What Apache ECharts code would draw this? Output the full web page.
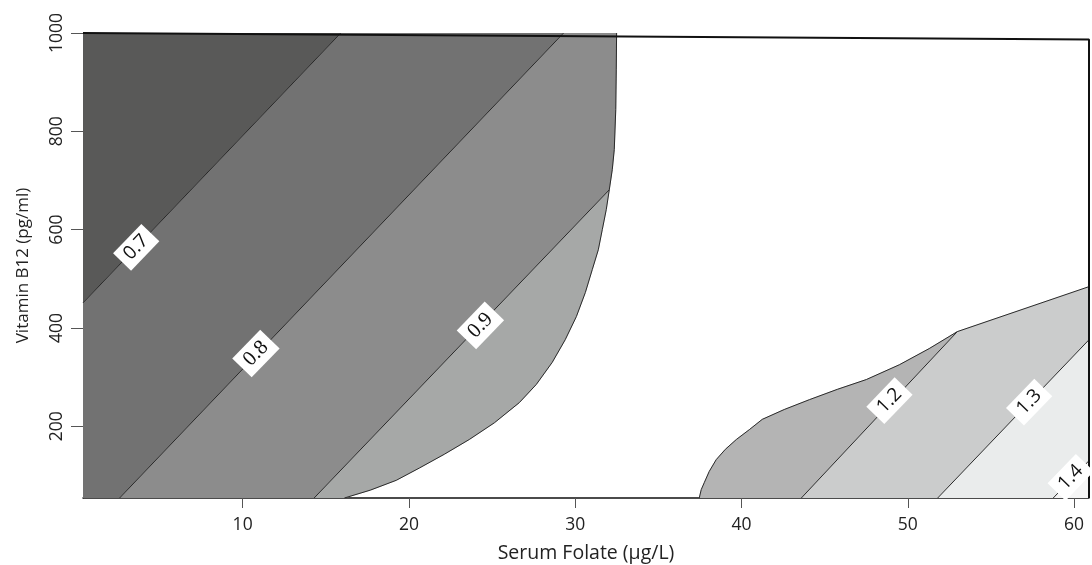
<!DOCTYPE html>
<html>
<head>
<meta charset="utf-8">
<script src="https://cdn.jsdelivr.net/npm/echarts@6/dist/echarts.min.js"></script>
<style>
html,body{margin:0;padding:0;background:#fff;}
#chart{width:1092px;height:565px;}
</style>
</head>
<body>
<div id="chart"></div>
<script>
// Axis ranges and ticks
const X_MIN = 0.4, X_MAX = 60.9, Y_MIN = 54, Y_MAX = 1000;
const xTicks = [10, 20, 30, 40, 50, 60];
const yTicks = [200, 400, 600, 800, 1000];

// Contour lines (Serum Folate, Vitamin B12)
const line07 = [[X_MIN, 451], [15.9, 1000]];
const line08 = [[2.6, Y_MIN], [29.3, 1000]];
const line09 = [[14.3, Y_MIN], [32.05, 681]];
const line10 = [[16.12, Y_MIN], [17.68, 70], [19.24, 90], [20.63, 115], [22.13, 143], [23.63, 173], [25.14, 207], [26.64, 248], [27.66, 285], [28.62, 330], [29.4, 376], [30.07, 423], [30.61, 472], [31.03, 519], [31.39, 559], [31.63, 600], [31.87, 641], [32.05, 681], [32.23, 722], [32.35, 763], [32.44, 844], [32.47, 925], [32.49, 1000]];
const line11 = [[37.46, Y_MIN], [37.58, 71], [37.76, 85], [38.06, 108], [38.48, 132], [39.03, 153], [39.69, 173], [40.47, 193], [41.25, 214], [42.57, 234], [44.08, 254], [45.76, 275], [47.51, 295], [49.49, 325], [51.29, 358], [52.98, 392.5], [X_MAX, 484]];
const line12 = [[43.6, Y_MIN], [52.98, 392.5]];
const line13 = [[51.8, Y_MIN], [X_MAX, 376]];
const line14 = [[58.75, Y_MIN], [X_MAX, 130]];

// Contour labels
const labelNames = ['0.7', '0.8', '0.9', '1.2', '1.3', '1.4'];
const labelX = [3.6, 10.8, 24.3, 48.9, 57.3, 59.8];
const labelY = [564, 348, 405, 252, 249, 96];
const labelSerif = [false, true, true, false, false, false];

// Band fill colours (low -> high)
const bandColors = ['#595958', '#727272', '#8c8c8c', '#a6a8a7', '#b4b4b4', '#cbcccc', '#eaecec', '#f6f6f6'];

const K10 = 17; // index of the 0.9 line end on the 1.0 boundary
const K11 = 15; // index of the 1.2 line end on the 1.1 boundary
const rev = a => a.slice().reverse();
const bands = [
  line07.concat([[X_MIN, Y_MAX]]),
  [[X_MIN, Y_MIN]].concat(line08, rev(line07)),
  line09.concat(line10.slice(K10 + 1), rev(line08)),
  line10.slice(0, K10 + 1).concat(rev(line09)),
  line11.slice(0, K11 + 1).concat(rev(line12)),
  line12.concat(line11.slice(K11 + 1), rev(line13)),
  line13.concat(rev(line14)),
  line14.concat([[X_MAX, Y_MIN]])
];

const SANS = '"Open Sans", "Noto Sans", sans-serif';
const SERIF = '"Liberation Serif", "DejaVu Serif", serif';

const chart = echarts.init(document.getElementById('chart'));

const contourSeries = [line07, line08, line09, line10, line11, line12, line13, line14].map(l => ({
  type: 'line', data: l, symbol: 'none', silent: true, z: 3,
  lineStyle: { color: '#2a2a2a', width: 1 }
}));

chart.setOption({
  animation: false,
  grid: { left: 83, right: 3, top: 33, bottom: 67, containLabel: false, outerBoundsMode: 'none' },
  xAxis: {
    type: 'value', min: X_MIN, max: X_MAX,
    name: 'Serum Folate (µg/L)', nameLocation: 'middle', nameGap: 45,
    nameTextStyle: { fontFamily: SANS, fontSize: 19.5, color: '#222' },
    splitLine: { show: false },
    axisLine: { show: true, onZero: false, lineStyle: { color: '#111', width: 1.5 } },
    axisTick: { show: true, length: 10, customValues: xTicks, lineStyle: { color: '#555' } },
    axisLabel: { customValues: xTicks, margin: 18, fontFamily: SANS, fontSize: 17.5, color: '#222' }
  },
  yAxis: {
    type: 'value', min: Y_MIN, max: Y_MAX,
    name: 'Vitamin B12 (pg/ml)', nameLocation: 'middle', nameGap: 51,
    nameTextStyle: { fontFamily: SANS, fontSize: 17, color: '#222' },
    splitLine: { show: false },
    axisLine: { show: true, onZero: false, lineStyle: { color: '#444', width: 1 } },
    axisTick: { show: true, length: 12, customValues: yTicks, lineStyle: { color: '#555' } },
    axisLabel: { customValues: yTicks, formatter: v => String(v), rotate: 90, margin: 17, fontFamily: SANS, fontSize: 17.5, color: '#222' }
  },
  series: [
    {
      type: 'custom', z: 1, silent: true, clip: true,
      data: bands.map((b, i) => [b[0][0], b[0][1], i]),
      renderItem: (params, api) => {
        const i = params.dataIndex;
        const pts = bands[i].map(p => api.coord(p));
        return { type: 'polygon', shape: { points: pts },
          style: { fill: bandColors[i], stroke: bandColors[i], lineWidth: 0.6 } };
      }
    },
    ...contourSeries,
    {
      type: 'line', z: 4, clip: false, symbol: 'none', silent: true,
      data: [[X_MIN, Y_MAX], [X_MAX, 987], [X_MAX, Y_MIN]],
      lineStyle: { color: '#111', width: 2 }
    },
    {
      type: 'scatter', z: 5, symbolSize: 0, silent: true,
      itemStyle: { opacity: 1 },
      data: labelNames.map((n, i) => ({ value: [labelX[i], labelY[i], labelSerif[i] ? 1 : 0], name: n })),
      label: {
        show: true, position: 'inside', rotate: 46, opacity: 1,
        formatter: p => (p.value[2] ? '{f|' : '{s|') + p.name + '}',
        backgroundColor: '#fff', padding: [3, 7],
        rich: {
          s: { fontFamily: SANS, fontSize: 19, color: '#111' },
          f: { fontFamily: SERIF, fontSize: 21, color: '#111' }
        }
      },
      emphasis: { disabled: true }
    }
  ]
});
</script>
</body>
</html>
